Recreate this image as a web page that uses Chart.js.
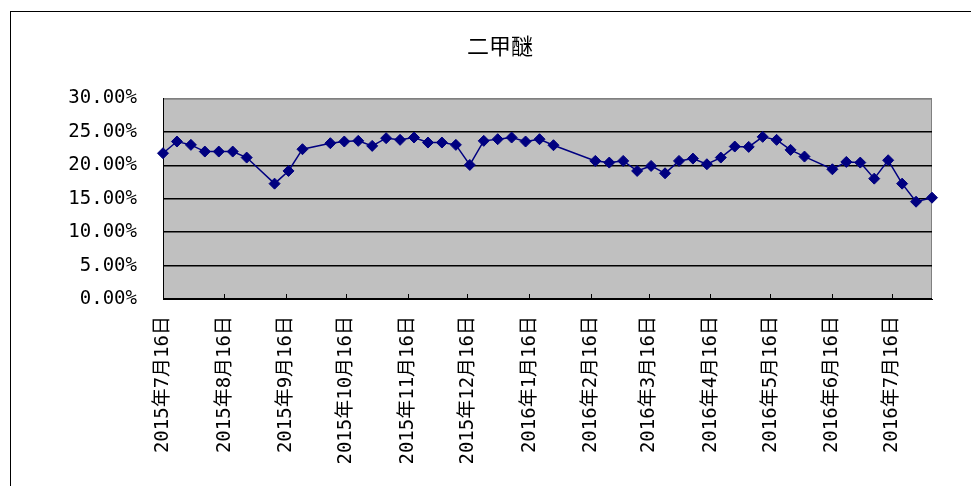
<!DOCTYPE html>
<html>
<head>
<meta charset="utf-8">
<script src="https://cdn.jsdelivr.net/npm/chart.js@4/dist/chart.umd.min.js"></script>
<style>
  html, body { margin: 0; padding: 0; background: #fff; overflow: hidden; }
  #wrap { position: relative; width: 971px; height: 486px; }
  #frame { position: absolute; left: 10px; top: 11px; right: -5px; bottom: -5px;
           border-left: 1px solid #000; border-top: 1px solid #000; pointer-events: none; }
  canvas { position: absolute; left: 0; top: 0; }
</style>
</head>
<body>
<div id="wrap">
  <canvas id="c" width="971" height="486"></canvas>
  <div id="frame"></div>
</div>
<script>
// ---- data ----
const chartTitle = '二甲醚';
const dates = [
  '2015-07-16','2015-07-23','2015-07-30','2015-08-06','2015-08-13','2015-08-20','2015-08-27',
  '2015-09-10','2015-09-17','2015-09-24','2015-10-08','2015-10-15','2015-10-22','2015-10-29',
  '2015-11-05','2015-11-12','2015-11-19','2015-11-26','2015-12-03','2015-12-10','2015-12-17',
  '2015-12-24','2015-12-31','2016-01-07','2016-01-14','2016-01-21','2016-01-28','2016-02-18',
  '2016-02-25','2016-03-03','2016-03-10','2016-03-17','2016-03-24','2016-03-31','2016-04-07',
  '2016-04-14','2016-04-21','2016-04-28','2016-05-05','2016-05-12','2016-05-19','2016-05-26',
  '2016-06-02','2016-06-16','2016-06-23','2016-06-30','2016-07-07','2016-07-14','2016-07-21',
  '2016-07-28','2016-08-05'
];
const values = [
  21.8, 23.55, 23.05, 22.05, 22.05, 22.05, 21.15, 17.25, 19.15, 22.4,
  23.3, 23.55, 23.65, 22.9, 24.05, 23.8, 24.15, 23.4, 23.4, 23.05,
  20.05, 23.65, 23.9, 24.15, 23.55, 23.9, 23.0, 20.65, 20.4, 20.65,
  19.15, 19.9, 18.8, 20.65, 21.0, 20.15, 21.15, 22.8, 22.75, 24.25,
  23.8, 22.3, 21.3, 19.4, 20.5, 20.4, 18.0, 20.75, 17.25, 14.55, 15.15
];
const tickDates = [
  '2015-07-16','2015-08-16','2015-09-16','2015-10-16','2015-11-16','2015-12-16',
  '2016-01-16','2016-02-16','2016-03-16','2016-04-16','2016-05-16','2016-06-16','2016-07-16'
];
const tickLabels = [
  '2015年7月16日','2015年8月16日','2015年9月16日','2015年10月16日','2015年11月16日','2015年12月16日',
  '2016年1月16日','2016年2月16日','2016年3月16日','2016年4月16日','2016年5月16日','2016年6月16日','2016年7月16日'
];
const yTicks = [0, 5, 10, 15, 20, 25, 30];

// ---- helpers ----
const DAY = 86400000;
const base = Date.parse(dates[0] + 'T00:00:00Z');
const toDay = s => Math.round((Date.parse(s + 'T00:00:00Z') - base) / DAY);
const points = dates.map((d, i) => ({ x: toDay(d), y: values[i] }));
const tickDays = tickDates.map(toDay);

const plotBg = {
  id: 'plotBg',
  beforeDraw(chart) {
    const { ctx, chartArea: a } = chart;
    ctx.save();
    ctx.fillStyle = '#c0c0c0';
    ctx.fillRect(a.left, a.top, a.right - a.left, a.bottom - a.top);
    ctx.strokeStyle = '#808080';
    ctx.lineWidth = 1;
    ctx.beginPath();
    ctx.moveTo(a.left, a.top + 0.5);
    ctx.lineTo(a.right - 0.5, a.top + 0.5);
    ctx.lineTo(a.right - 0.5, a.bottom);
    ctx.stroke();
    ctx.restore();
  }
};

new Chart(document.getElementById('c'), {
  type: 'line',
  data: {
    datasets: [{
      data: points,
      borderColor: '#000080',
      backgroundColor: '#000080',
      borderWidth: 1.5,
      pointStyle: 'rectRot',
      pointRadius: 5.5,
      pointBorderWidth: 1,
      pointBorderColor: '#000080',
      pointBackgroundColor: '#000080',
      tension: 0,
      fill: false,
      clip: false
    }]
  },
  options: {
    responsive: false,
    animation: false,
    events: [],
    layout: { padding: { left: 68, right: 39, top: 12, bottom: 0 } },
    plugins: {
      legend: { display: false },
      tooltip: { enabled: false },
      title: {
        display: true,
        text: chartTitle,
        color: '#000',
        font: { family: '"Noto Sans CJK SC", sans-serif', size: 22, weight: 'normal' },
        padding: { top: 20, bottom: 40 }
      }
    },
    scales: {
      x: {
        type: 'linear',
        min: 0,
        max: points[points.length - 1].x,
        afterBuildTicks(scale) { scale.ticks = tickDays.map(v => ({ value: v })); },
        afterFit(scale) { scale.height = 187; },
        ticks: {
          autoSkip: false,
          maxRotation: 90,
          minRotation: 90,
          padding: 22,
          color: '#000',
          font: { family: '"DejaVu Sans Mono", "Noto Sans CJK SC", monospace', size: 19 },
          callback(v) { const i = tickDays.indexOf(v); return i >= 0 ? tickLabels[i] : ''; }
        },
        grid: { drawOnChartArea: false, drawTicks: true, tickLength: -5, color: '#000', lineWidth: 1 },
        border: { display: true, color: '#000', width: 1 }
      },
      y: {
        min: 0,
        max: 30,
        afterBuildTicks(scale) { scale.ticks = yTicks.map(v => ({ value: v })); },
        afterFit(scale) { scale.width = 95; },
        ticks: {
          padding: 26,
          color: '#000',
          font: { family: '"DejaVu Sans Mono", monospace', size: 19 },
          callback: v => v.toFixed(2) + '%'
        },
        grid: {
          drawTicks: false,
          lineWidth: 1.5,
          color: ctx => (ctx.tick && ctx.tick.value === 30) ? '#808080' : '#000'
        },
        border: { display: true, color: '#000', width: 1 }
      }
    }
  },
  plugins: [plotBg]
});
</script>
</body>
</html>
